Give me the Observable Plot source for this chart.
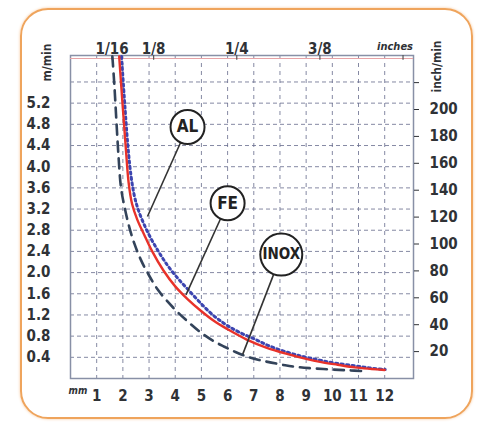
<!DOCTYPE html>
<html><head><meta charset="utf-8">
<script src="https://cdn.jsdelivr.net/npm/d3@7"></script>
<script src="https://cdn.jsdelivr.net/npm/@observablehq/plot@0.6"></script>
<style>
body{margin:0;background:#fff;}
#wrap{position:relative;width:483px;height:427px;overflow:hidden;}
#box{position:absolute;left:20px;top:8px;width:449px;height:407px;border:2px solid #efa45c;border-radius:28px;box-shadow:0 0 3px #f6c79a;}
#chart{position:absolute;left:0;top:0;}
#chart svg text{font-stretch:condensed;}
</style></head>
<body><div id="wrap"><div id="box"></div><div id="chart"></div></div>
<script>
// mm thickness ticks
const mmTicks = [1,2,3,4,5,6,7,8,9,10,11,12];
// m/min ticks (left)
const mminTicks = [0.4,0.8,1.2,1.6,2.0,2.4,2.8,3.2,3.6,4.0,4.4,4.8,5.2];
const mminGrid = [0.4,0.8,1.2,1.6,2.0,2.4,2.8,3.2,3.6,4.0,4.4,4.8,5.2,5.6];
// inch/min ticks (right)
const ipmTicks = [20,40,60,80,100,120,140,160,180,200,220];
const ipmLabels = ["20","40","60","80","100","120","140","160","180","200",""];
// inch ticks (top)
const inchValues = [1/16,1/8,1/4,3/8,1/2];
const inchLabels = ["1/16","1/8","1/4","3/8","inches"];

// AL (dotted blue)
const alX = [1.93,2.05,2.18,2.30,2.42,2.56,2.80,3.07,3.40,3.71,4.10,4.47,4.90,5.37,5.88,6.40,7.03,7.60,8.30,8.90,9.46,10.1,10.85,11.4,12.0];
const alY = [6.08,5.20,4.35,3.80,3.45,3.20,2.90,2.63,2.35,2.12,1.88,1.68,1.45,1.22,1.03,0.88,0.74,0.61,0.49,0.41,0.35,0.29,0.24,0.20,0.17];
// FE (solid red)
const feX = [1.86,2.00,2.12,2.22,2.35,2.55,2.81,3.10,3.55,4.00,4.47,5.00,5.50,6.00,6.71,7.50,8.30,9.00,9.58,10.2,10.86,11.5,12.0];
const feY = [6.08,5.10,4.30,3.70,3.30,3.00,2.72,2.42,2.04,1.74,1.50,1.27,1.08,0.93,0.74,0.58,0.46,0.37,0.31,0.26,0.21,0.18,0.16];
// INOX (dashed)
const inoxX = [1.60,1.68,1.76,1.84,1.93,2.08,2.25,2.43,2.68,2.94,3.33,3.90,4.47,5.00,5.49,5.88,6.30,6.77,7.20,7.67,8.20,8.69,9.30,9.97,10.6,11.2];
const inoxY = [6.08,5.50,4.80,4.15,3.60,3.20,2.85,2.56,2.25,2.00,1.68,1.35,1.08,0.86,0.70,0.60,0.50,0.41,0.35,0.30,0.25,0.215,0.19,0.17,0.155,0.14];

// callouts
const labelNames = ["AL","FE","INOX"];
const labelX = [4.47,6.0,8.05];
const labelY = [4.75,3.31,2.34];
const labelR = [17,17,21];
const leaderX = [2.94,4.41,6.58];
const leaderY = [3.06,1.58,0.46];

const YMAX = 6.1, XMAX = 13.1;
const toPts = (xs, ys) => xs.map((x, i) => ({x, y: ys[i]}));
const al = toPts(alX, alY), fe = toPts(feX, feY), inox = toPts(inoxX, inoxY);
const labels = labelNames.map((n, i) => ({n, x: labelX[i], y: labelY[i], r: labelR[i], x2: leaderX[i], y2: leaderY[i]}));
const inchMm = inchValues.map(v => v * 25.4);
const inchData = inchMm.map((x, i) => ({x, t: inchLabels[i]}));
const FONT = "'Liberation Sans Narrow','DejaVu Sans Condensed','DejaVu Sans',sans-serif";
const ink = "#2f3236";
const grid = "#666b8c";

const plot = Plot.plot({
  width: 483, height: 427,
  marginLeft: 70, marginRight: 70, marginTop: 55, marginBottom: 49,
  x: {domain: [0, XMAX]},
  y: {domain: [0, YMAX]},
  r: {type: "identity"},
  style: {fontFamily: FONT, fontWeight: "bold", color: ink, background: "transparent", overflow: "visible"},
  marks: [
    Plot.ruleX(mmTicks, {stroke: grid, strokeWidth: 1, strokeDasharray: "4,4", strokeOpacity: 0.8}),
    Plot.ruleY(mminGrid, {stroke: grid, strokeWidth: 1, strokeDasharray: "4,3", strokeOpacity: 0.8}),
    Plot.frame({stroke: "#8890a6", strokeWidth: 1.5}),
    Plot.ruleY([YMAX], {stroke: "#e7a3a6", strokeWidth: 1.2, dy: 3}),
    // bottom axis
    Plot.axisX({anchor: "bottom", ticks: mmTicks, tickSize: 0, tickPadding: 12, fontSize: 15, tickFormat: d => String(d)}),
    Plot.text(["mm"], {frameAnchor: "bottom-left", dx: -2, dy: 15, fontSize: 10, fontStyle: "italic", text: d => d}),
    // left axis
    Plot.axisY({anchor: "left", ticks: mminTicks, tickSize: 0, tickPadding: 20, fontSize: 15, tickFormat: d => d.toFixed(1)}),
    Plot.text(["m/min"], {frameAnchor: "top-left", textAnchor: "middle", lineAnchor: "middle", dx: -23, dy: 7, rotate: -90, fontSize: 12, text: d => d}),
    // right axis (inch/min)
    Plot.axisY({anchor: "right", ticks: ipmTicks.map(v => v * 0.0254), tickSize: 5, tickPadding: 11, fontSize: 15,
      tickFormat: d => ipmLabels[ipmTicks.indexOf(Math.round(d / 0.0254))]}),
    Plot.text(["inch/min"], {frameAnchor: "top-right", textAnchor: "middle", lineAnchor: "middle", dx: 24, dy: 11, rotate: -90, fontSize: 12, text: d => d}),
    // top axis (inches)
    Plot.ruleX(inchMm, {y1: YMAX, y2: YMAX - 0.09, stroke: "#555", strokeWidth: 1.2}),
    Plot.text(inchData.filter(d => d.t !== "inches"), {x: "x", frameAnchor: "top", dy: -12, fontSize: 15, text: "t"}),
    Plot.text(inchData.filter(d => d.t === "inches"), {x: "x", frameAnchor: "top", dy: -13, dx: -8, fontSize: 11, fontStyle: "italic", text: "t"}),
    // curves
    Plot.line(inox, {x: "x", y: "y", stroke: "#33435a", strokeWidth: 2.6, strokeDasharray: "10,7", curve: "catmull-rom"}),
    Plot.line(al, {x: "x", y: "y", stroke: "#3c45b0", strokeWidth: 3, strokeDasharray: "2.2,3.3", curve: "catmull-rom", dx: 0.5}),
    Plot.line(fe, {x: "x", y: "y", stroke: "#e8322a", strokeWidth: 2.4, curve: "catmull-rom"}),
    // callouts
    Plot.link(labels, {x1: "x", y1: "y", x2: "x2", y2: "y2", stroke: "#333", strokeWidth: 1.6}),
    Plot.dot(labels, {x: "x", y: "y", r: "r", fill: "white", stroke: "#222", strokeWidth: 2}),
    Plot.text(labels, {x: "x", y: "y", text: "n", fontSize: d => d.n === "INOX" ? 15 : 17, fill: "#222"})
  ]
});
document.getElementById("chart").appendChild(plot);
</script></body></html>
